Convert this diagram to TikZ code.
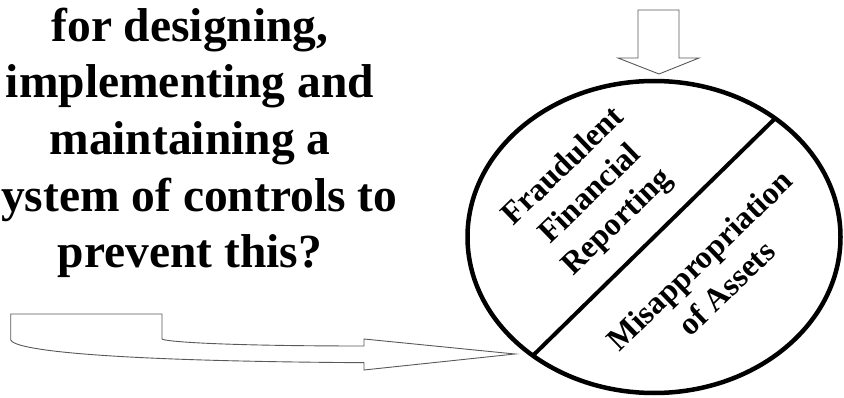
\documentclass[tikz,border=0pt]{standalone}
\usepackage{fontspec}
\setmainfont{Liberation Serif}
\usetikzlibrary{shapes.geometric,calc}
\tikzset{
  bigtext/.style={font=\fontsize{47.5}{56.5}\selectfont\bfseries, anchor=base, inner sep=0pt},
  ovaltext/.style={font=\fontsize{32}{38.5}\selectfont\bfseries, align=center, rotate=44, inner sep=0pt},
  blockarrow/.style={draw=black!65, line width=0.9pt, fill=white, line join=miter},
  oval/.style={draw, ellipse, line width=4.5pt, minimum width=373pt, minimum height=312pt, inner sep=0pt, outer sep=0pt},
}
\begin{document}
\begin{tikzpicture}[x=1pt,y=-1pt]
\useasboundingbox (0,0) rectangle (844,398);
\clip (0,0) rectangle (844,398);
\fill[white] (0,0) rectangle (844,398);
% left question text
\node[bigtext] (l1) at (190,42) {for designing,};
\node[bigtext] (l2) at (190,97.5) {implementing and};
\node[bigtext] (l3) at (190,155) {maintaining a};
\node[bigtext] (l4) at (190,212) {system of controls to};
\node[bigtext] (l5) at (190,268) {prevent this?};
% oval
\node[oval] (ell) at (654,237) {};
\coordinate (dA) at ($(ell.center)+(-49.5:186.5 and 156)$);
\coordinate (dB) at ($(ell.center)+(130.5:186.5 and 156)$);
\draw[line width=4pt] (dA) -- (dB);
\node[ovaltext] (fr) at (591,195) {Fraudulent\\Financial\\Reporting};
\node[ovaltext] (ma) at (713,274) {Misappropriation\\of Assets};
% top block arrow
\coordinate (ttip) at (659,74);
\draw[blockarrow] (638,10) -- (679,10) -- (679,58) -- (699,58) -- (ttip) -- (618,58) -- (638,58) -- cycle;
% bottom bent block arrow
\coordinate (btip) at (515,354);
\draw[blockarrow] (10.7,314) -- (162,314) -- (162,339)
  .. controls (166,342) and (230,346) .. (364,346)
  -- (364,339) -- (btip) -- (364,370) -- (364,362.7)
  .. controls (100,361) and (15,350) .. (10.7,340) -- cycle;
\end{tikzpicture}
\end{document}
